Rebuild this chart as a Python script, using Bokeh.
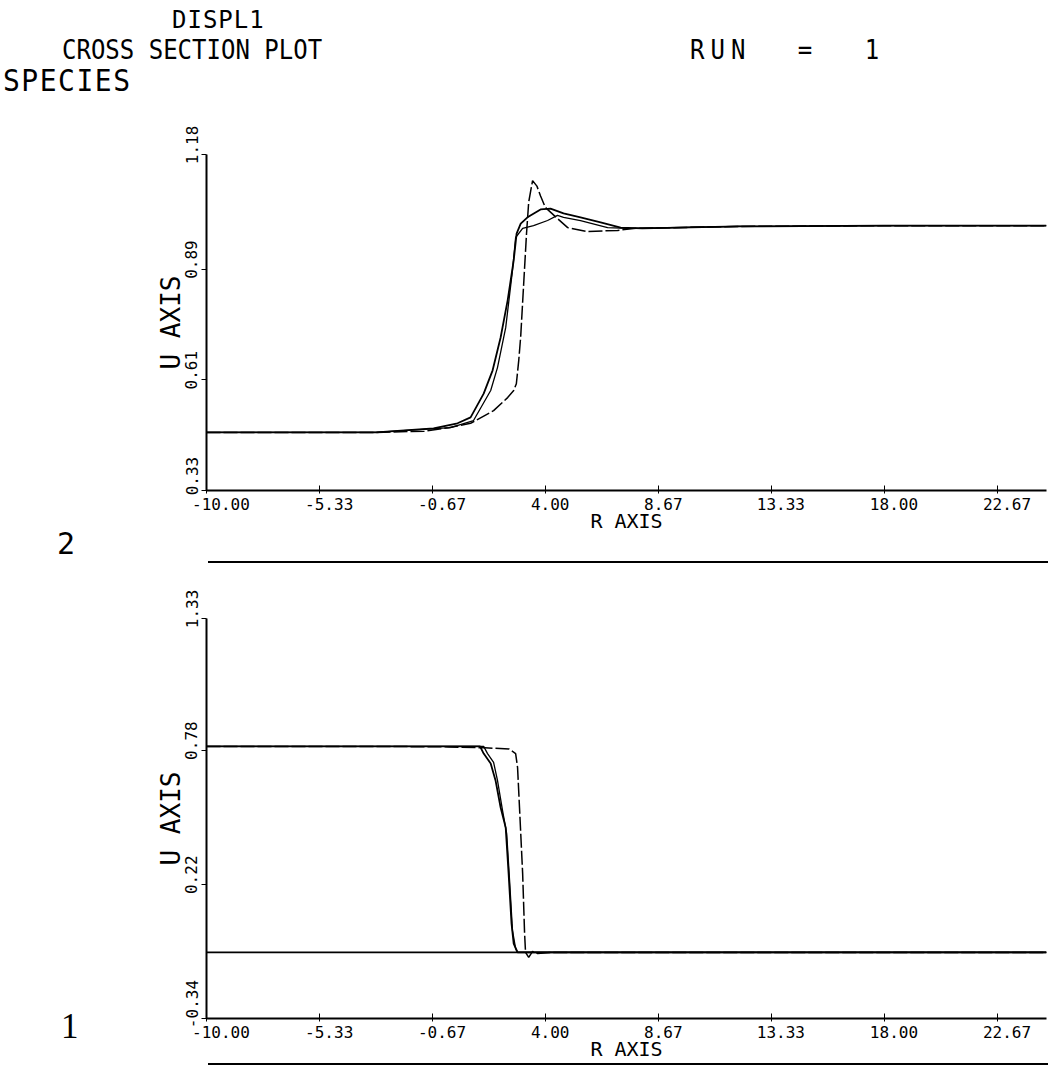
from bokeh.plotting import figure
from bokeh.models import FixedTicker, Span, Div, Range1d
from bokeh.layouts import column, row
from bokeh.embed import file_html
from bokeh.resources import INLINE

# ---------------- data ----------------
x_start, x_end = -10.0, 24.7
x_ticks = [-10.00, -5.33, -0.67, 4.00, 8.67, 13.33, 18.00, 22.67]
x_tick_labels = ["-10.00", "-5.33", "-0.67", "4.00", "8.67", "13.33", "18.00", "22.67"]

# species 2 (upper panel)
top_y_ticks = [0.33, 0.61, 0.89, 1.18]
top_y_tick_labels = ["0.33", "0.61", "0.89", "1.18"]
top_a_x = [-10, -3, -1, 0.0, 0.91, 1.86, 2.44, 2.69, 2.80, 2.90, 2.98, 3.10, 3.22, 3.31, 3.47, 3.65, 3.80, 4.0, 4.5, 4.92, 5.74, 6.98, 7.64, 12, 18, 24.7]
top_a_y = [0.477, 0.477, 0.480, 0.489, 0.500, 0.532, 0.565, 0.583, 0.60, 0.66, 0.72, 0.85, 0.98, 1.06, 1.114, 1.10, 1.075, 1.046, 1.018, 0.995, 0.985, 0.988, 0.993, 0.998, 1.0, 1.0]
top_b_x = [-10, -3, -0.62, 0.37, 0.91, 1.45, 1.82, 2.15, 2.44, 2.69, 2.81, 2.98, 3.26, 3.80, 4.21, 4.75, 5.45, 6.28, 7.11, 8, 12, 18, 24.7]
top_b_y = [0.477, 0.477, 0.487, 0.500, 0.515, 0.575, 0.634, 0.717, 0.811, 0.912, 0.980, 1.005, 1.021, 1.041, 1.043, 1.031, 1.021, 1.008, 0.995, 0.993, 0.998, 1.0, 1.0]
top_c_x = [-10, -3, 0.08, 1.03, 1.74, 2.02, 2.36, 2.64, 2.77, 3.06, 3.51, 4.09, 4.50, 4.75, 5.45, 6.57, 7.40, 12, 18, 24.7]
top_c_y = [0.477, 0.477, 0.489, 0.507, 0.583, 0.641, 0.742, 0.887, 0.970, 0.993, 1.000, 1.013, 1.026, 1.021, 1.013, 0.995, 0.993, 0.998, 1.0, 1.0]

# species 1 (lower panel)
bot_y_ticks = [-0.34, 0.22, 0.78, 1.33]
bot_y_tick_labels = ["-0.34", "0.22", "0.78", "1.33"]
bot_zero_level = -0.064
bot_a_x = [-10, -3, 0, 1.5, 2.5, 2.77, 2.85, 2.93, 3.06, 3.14, 3.18, 3.31, 3.47, 3.68, 4.2, 24.7]
bot_a_y = [0.796, 0.796, 0.794, 0.790, 0.785, 0.766, 0.708, 0.541, 0.265, 0.015, -0.064, -0.085, -0.060, -0.069, -0.064, -0.064]
bot_b_x = [-10, -3, 1.30, 1.45, 1.74, 1.94, 2.15, 2.36, 2.48, 2.60, 2.69, 2.85, 24.7]
bot_b_y = [0.796, 0.796, 0.796, 0.766, 0.725, 0.654, 0.541, 0.457, 0.265, 0.057, -0.027, -0.064, -0.064]
bot_c_x = [-10, -3, 1.45, 1.61, 1.86, 2.02, 2.23, 2.40, 2.52, 2.64, 2.77, 2.85, 24.7]
bot_c_y = [0.796, 0.796, 0.796, 0.766, 0.729, 0.654, 0.528, 0.432, 0.236, 0.027, -0.048, -0.064, -0.064]

MONO = "DejaVu Sans Mono"
LEFT_W = 120
NB = "\u00a0"


def make_panel(height, border_top, border_bottom, y0, y1, y_ticks, y_labels):
    p = figure(width=1048 - LEFT_W, height=height,
               x_range=Range1d(x_start, x_end), y_range=Range1d(y0, y1),
               output_backend="svg", toolbar_location=None,
               min_border_left=206 - LEFT_W, min_border_right=2,
               min_border_top=border_top, min_border_bottom=border_bottom,
               x_axis_label="R AXIS", y_axis_label="U AXIS")
    p.outline_line_color = None
    p.grid.visible = False
    p.background_fill_color = "white"

    xa = p.xaxis[0]
    xa.ticker = FixedTicker(ticks=x_ticks)
    # plotter labels start just left of their tick: pad the front with fixed-width blanks
    xa.major_label_overrides = {t: NB * max(len(s) - 3, 0) + s for t, s in zip(x_ticks, x_tick_labels)}
    xa.axis_line_width = 2
    xa.major_tick_in = 5
    xa.major_tick_out = 3
    xa.minor_tick_line_color = None
    xa.major_label_text_font = MONO
    xa.major_label_text_font_size = "16px"
    xa.major_label_text_color = "black"
    xa.major_label_standoff = 1
    xa.axis_label_text_font = MONO
    xa.axis_label_text_font_size = "20px"
    xa.axis_label_text_font_style = "normal"
    xa.axis_label_text_color = "black"
    xa.axis_label_standoff = -8

    ya = p.yaxis[0]
    ya.ticker = FixedTicker(ticks=y_ticks)
    ya.major_label_overrides = {t: NB * (3 if i == 0 else 2) + s for i, (t, s) in enumerate(zip(y_ticks, y_labels))}
    ya.axis_line_width = 2
    ya.major_tick_in = 0
    ya.major_tick_out = 5
    ya.minor_tick_line_color = None
    ya.major_label_orientation = "vertical"
    ya.major_label_text_font = MONO
    ya.major_label_text_font_size = "16px"
    ya.major_label_text_color = "black"
    ya.major_label_standoff = 0
    ya.axis_label_text_font = MONO
    ya.axis_label_text_font_size = "26px"
    ya.axis_label_text_font_style = "normal"
    ya.axis_label_text_color = "black"
    ya.axis_label_standoff = -6
    return p


def span(text, left, top, size, font=MONO, extra=""):
    return (f'<span style="position:absolute;left:{left}px;top:{top}px;font-size:{size}px;'
            f"font-family:'{font}';line-height:1;white-space:pre;transform-origin:0 0;{extra}\">{text}</span>")


title_html = ('<div style="position:relative;width:1048px;height:100px;color:black;">'
              + span("DISPL1", 172, 8, 24, extra="letter-spacing:1px;")
              + span("CROSS SECTION PLOT", 62, 37, 24, extra="transform:scaleY(1.1);")
              + span("RUN = 1", 690, 37, 24, extra="transform:scaleY(1.1);letter-spacing:6px;word-spacing:26px;")
              + span("SPECIES", 3, 66, 28, extra="transform:scaleY(1.1);letter-spacing:1.5px;")
              + '</div>')
title_div = Div(text=title_html, width=1048, height=100, margin=(0, 0, 0, 0))

# ---------------- upper panel (species 2) ----------------
H1 = 461
p1 = make_panel(H1, 54, 71, 0.33, 1.18, top_y_ticks, top_y_tick_labels)
p1.line(top_b_x, top_b_y, line_color="black", line_width=1.8)
p1.line(top_c_x, top_c_y, line_color="black", line_width=1.3)
p1.line(top_a_x, top_a_y, line_color="black", line_width=1.5, line_dash="14 3")
num2 = Div(text=f'<div style="position:relative;width:{LEFT_W}px;height:{H1}px;color:black;">'
           + span("2", 57, 429, 30) + '</div>', width=LEFT_W, height=H1, margin=(0, 0, 0, 0))

sep1 = Div(width=840, height=2, margin=(0, 0, 0, 208), styles={"background-color": "black"})

# ---------------- lower panel (species 1) ----------------
H2 = 500
p2 = make_panel(H2, 55, 45, -0.34, 1.33, bot_y_ticks, bot_y_tick_labels)
p2.add_layout(Span(location=bot_zero_level, dimension="width", line_color="black", line_width=1.8))
p2.line(bot_b_x, bot_b_y, line_color="black", line_width=1.8)
p2.line(bot_c_x, bot_c_y, line_color="black", line_width=1.3)
p2.line(bot_a_x, bot_a_y, line_color="black", line_width=1.5, line_dash="14 3")
num1 = Div(text=f'<div style="position:relative;width:{LEFT_W}px;height:{H2}px;color:black;">'
           + span("1", 61, 446, 35, font="Liberation Serif") + '</div>', width=LEFT_W, height=H2, margin=(0, 0, 0, 0))

sep2 = Div(width=840, height=2, margin=(0, 0, 0, 208), styles={"background-color": "black"})

layout = column(title_div, row(num2, p1, spacing=0), sep1, row(num1, p2, spacing=0), sep2, spacing=0)
open("out.html", "w").write(file_html(layout, INLINE))
